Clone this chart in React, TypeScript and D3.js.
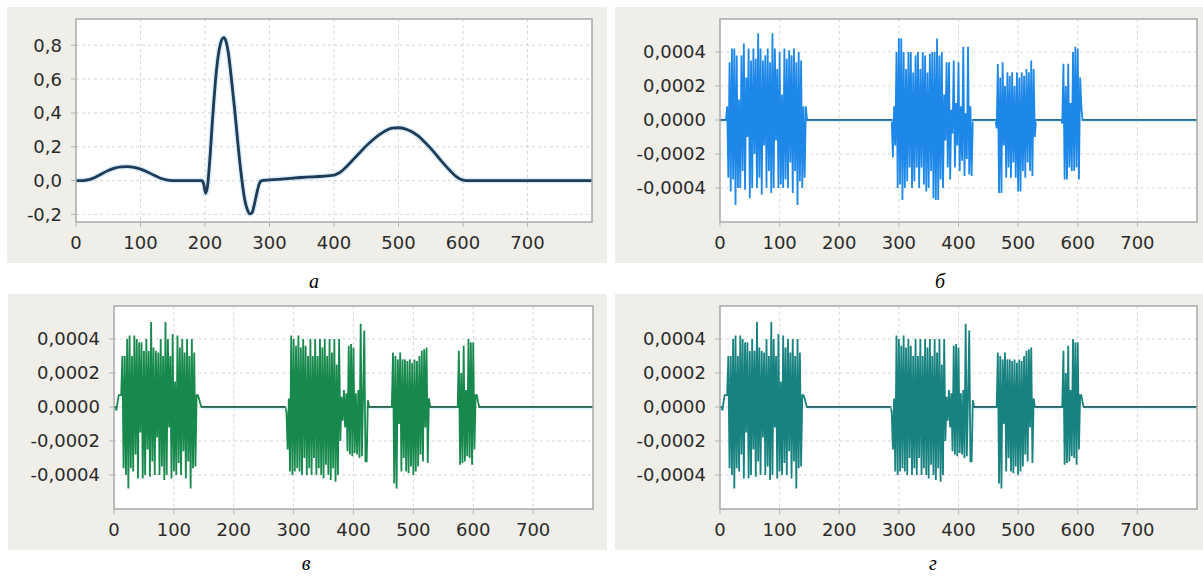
import React from 'react';
import * as d3 from 'd3';

// ---------- tick values / captions ----------
const X_TICKS = [0, 100, 200, 300, 400, 500, 600, 700];
const ECG_Y_TICKS = [-0.2, 0, 0.2, 0.4, 0.6, 0.8];
const DETAIL_Y_TICKS = [-0.0004, -0.0002, 0, 0.0002, 0.0004];
const CAPTIONS = ['а', 'б', 'в', 'г'];

// ---------- panel а: ECG-like signal (key samples) ----------
const ecgX = [0, 10, 20, 30, 40, 50, 60, 70, 80, 90, 100, 110, 120, 130, 140, 150, 195, 198, 201, 204, 207, 212, 218, 224, 229, 232, 236, 241, 246, 251, 256, 261, 266, 270, 273, 276, 280, 284, 288, 300, 350, 400, 405, 410, 420, 430, 440, 450, 460, 470, 480, 490, 500, 510, 520, 530, 540, 550, 560, 570, 580, 590, 600, 605, 800];
const ecgY = [0, 0, 0.005, 0.02, 0.04, 0.06, 0.074, 0.081, 0.082, 0.078, 0.068, 0.052, 0.033, 0.015, 0.004, 0, 0, -0.02, -0.075, -0.03, 0.1, 0.38, 0.66, 0.81, 0.845, 0.83, 0.76, 0.6, 0.42, 0.22, 0.04, -0.1, -0.175, -0.197, -0.19, -0.15, -0.08, -0.02, 0, 0.004, 0.018, 0.032, 0.04, 0.05, 0.085, 0.125, 0.165, 0.205, 0.24, 0.27, 0.295, 0.31, 0.312, 0.306, 0.29, 0.265, 0.23, 0.19, 0.145, 0.1, 0.058, 0.022, 0.002, 0, 0];

// ---------- detail coefficients, values in units of 1e-4, sample step 2 ----------
const STEP = 2;
const UNIT = 1e-4;

// panel б
const bStarts = [12, 290, 464, 574];
const bBurst1 = [0.8, -3.4, 3.4, -4.2, 4.2, -3.5, 4.2, -5.0, 3.8, -4.0, 1.2, -4.0, 3.8, -3.0, 4.5, -4.1, 2.5, -1.0, 4.2, -4.6, 3.5, -4.0, 4.2, -2.0, 3.6, -4.0, 5.1, -3.4, 4.2, -4.4, 3.5, -1.5, 3.8, -4.0, 4.2, -3.0, 3.4, -4.3, 5.1, -4.0, 4.2, -1.2, 3.0, -4.0, 4.0, -3.8, 1.5, -4.0, 4.2, -3.5, 3.6, -4.0, 4.1, -2.5, 3.8, -4.3, 4.2, -3.0, 3.4, -5.0, 4.0, -3.6, 3.5, -4.0, 0.8, -3.4, 0.8, 0];
const bBurst2 = [-2.2, 0.8, -1.5, 4.0, -4.0, 4.8, -3.8, 4.8, -4.7, 4.0, -4.0, 3.0, -3.6, 4.0, -2.8, 4.0, -4.0, 2.8, -3.6, 3.8, -2.8, 4.0, -4.0, 3.0, -2.8, 4.0, -3.8, 3.8, -4.2, 2.8, -4.0, 3.9, -3.0, 4.0, -4.6, 4.0, -4.7, 4.8, -4.7, 3.8, -3.5, 4.0, -4.0, 1.5, -1.2, 3.4, -2.8, 3.4, -3.5, 0.6, -0.8, 3.5, -2.8, 1.0, -1.5, 3.4, -3.0, 0.8, -2.4, 4.3, -3.3, 0.4, -2.3, 4.3, -3.2, 0.8, -3.3, 0];
const bBurst3 = [-0.5, 3.3, -4.3, 2.5, -4.3, 3.4, -1.5, 2.0, -3.4, 2.8, -2.8, 2.6, -3.4, 2.8, -2.5, 2.0, -3.4, 2.8, -4.2, 2.5, -4.2, 2.8, -3.0, 2.6, -3.4, 3.0, -2.5, 2.8, -3.0, 3.5, -3.3, 3.0, -1.0, 0];
const bBurst4 = [-0.2, 3.3, -3.5, 2.0, -3.5, 3.3, -2.8, 1.0, -3.0, 4.0, -3.0, 4.3, -2.8, 4.2, -3.5, 2.5, 0.8, 0];

// panel в (and г, which shows the same reconstruction)
const cStarts = [4, 288, 464, 574];
const cBurst1 = [-0.2, 0.3, 0.7, 0.7, 0.7, 3.0, -3.6, 3.0, -4.0, 4.0, -4.8, 4.2, -3.6, 3.0, -3.8, 4.2, -2.8, 4.0, -4.2, 3.8, -1.5, 3.8, -4.2, 3.3, -4.0, 4.0, -2.5, 3.3, -4.1, 5.0, -3.2, 3.5, -4.0, 3.3, -1.8, 3.2, -4.0, 4.0, -3.5, 3.0, -4.3, 5.0, -4.0, 4.0, -1.2, 3.0, -4.2, 4.3, -3.8, 1.5, -4.0, 4.2, -3.3, 3.5, -4.0, 4.0, -2.6, 3.2, -4.2, 4.0, -3.2, 3.0, -4.8, 4.0, -3.6, 3.2, -3.5, 0.7, 0.7, 0.5, 0.2, 0];
const cBurst2 = [-0.3, -2.5, 0.5, -3.8, 4.2, -4.0, 4.0, -3.8, 3.6, -3.6, 4.2, -3.8, 3.5, -4.0, 4.0, -3.0, 3.6, -4.0, 3.0, -3.6, 4.0, -4.0, 3.0, -3.0, 4.0, -4.0, 3.0, -3.6, 4.0, -4.0, 3.5, -4.2, 4.0, -3.4, 3.0, -4.0, 4.0, -4.3, 3.2, -3.6, 4.0, -4.4, 2.5, -4.0, 4.0, -2.0, 0.6, -0.8, 1.0, -1.2, 0.8, -2.6, 3.6, -2.8, 3.7, -2.9, 3.5, -2.7, 0.8, -2.8, 1.0, -3.0, 4.9, -2.9, 0.6, 4.5, -3.2, -3.2, 0.4, 0];
const cBurst3 = [0.0, 3.2, -4.5, 3.0, -4.8, 2.8, -1.0, 3.2, -3.8, 2.8, -3.0, 2.8, -3.8, 2.7, -3.9, 2.8, -3.5, 2.6, -4.0, 2.8, -3.8, 2.7, -3.5, 3.0, -2.8, 3.3, -3.2, 3.4, -1.2, 3.5, -3.3, 0.5, 0];
const cBurst4 = [0, 3.3, -3.4, 2.0, -3.3, 3.6, -3.2, 1.0, -2.9, 4.0, -3.0, 3.8, -3.4, 3.8, -2.5, 0.7, 0.7, 0.3, 0];

// ---------- layout ----------
const W = 1203;
const H = 576;
const X_MAX = 800;
const LAYOUT = [
  { bg: { x: 7, y: 7, w: 600, h: 256 }, plot: { l: 76, t: 19, r: 592, b: 222 }, cap: { x: 314, y: 288 } },
  { bg: { x: 615, y: 7, w: 588, h: 256 }, plot: { l: 720, t: 19, r: 1197, b: 222 }, cap: { x: 940, y: 288 } },
  { bg: { x: 8, y: 294, w: 599, h: 256 }, plot: { l: 114, t: 306, r: 593, b: 509 }, cap: { x: 306, y: 570 } },
  { bg: { x: 615, y: 294, w: 588, h: 256 }, plot: { l: 720, t: 306, r: 1197, b: 509 }, cap: { x: 933, y: 570 } },
];

const locale = d3.formatLocale({ decimal: ',', thousands: ' ', grouping: [3], currency: ['', ''], minus: '-' });
const fmtEcg = locale.format('.1f');
const fmtDetail = locale.format('.4f');

function buildDetail(starts: number[], bursts: number[][]) {
  const pts: [number, number][] = [[0, 0]];
  const flats: [number, number][] = [];
  let prevEnd = 0;
  starts.forEach((s, i) => {
    const vals = bursts[i];
    flats.push([prevEnd, s - STEP]);
    pts.push([s - STEP, 0]);
    vals.forEach((v, j) => pts.push([s + j * STEP, v * UNIT]));
    prevEnd = s + (vals.length - 1) * STEP;
  });
  pts.push([X_MAX, 0]);
  flats.push([prevEnd, X_MAX]);
  return { pts, flats };
}

const ecgPts: [number, number][] = ecgX.map((x, i) => [x, ecgY[i]]);
const bSeries = buildDetail(bStarts, [bBurst1, bBurst2, bBurst3, bBurst4]);
const cSeries = buildDetail(cStarts, [cBurst1, cBurst2, cBurst3, cBurst4]);

const PANELS = [
  { yDomain: [-0.245, 0.955], yTicks: ECG_Y_TICKS, fmt: fmtEcg, kind: 'ecg', color: '#1f3b57', flat: '#1f3b57' },
  { yDomain: [-0.0006, 0.000594], yTicks: DETAIL_Y_TICKS, fmt: fmtDetail, kind: 'b', color: '#1e88e8', flat: '#2f6884' },
  { yDomain: [-0.0006, 0.000594], yTicks: DETAIL_Y_TICKS, fmt: fmtDetail, kind: 'c', color: '#18894d', flat: '#2f5a4c' },
  { yDomain: [-0.0006, 0.000594], yTicks: DETAIL_Y_TICKS, fmt: fmtDetail, kind: 'd', color: '#17827f', flat: '#2c5d60' },
];

const TICK_FONT = 'DejaVu Sans, Verdana, sans-serif';

function Panel({ idx }: { idx: number }) {
  const L = LAYOUT[idx];
  const P = PANELS[idx];
  const { l, t, r, b } = L.plot;
  const x = d3.scaleLinear().domain([0, X_MAX]).range([l, r]);
  const y = d3.scaleLinear().domain(P.yDomain).range([b, t]);
  const clipId = `clip${idx}`;

  let main: React.ReactNode = null;
  if (P.kind === 'ecg') {
    const line = d3.line<[number, number]>().x(d => x(d[0])).y(d => y(d[1])).curve(d3.curveMonotoneX);
    const dStr = line(ecgPts) || '';
    main = (
      <g clipPath={`url(#${clipId})`}>
        <path d={dStr} fill="none" stroke="#bfe0f5" strokeWidth={5.5} strokeOpacity={0.6} />
        <path d={dStr} fill="none" stroke={P.color} strokeWidth={2.8} strokeLinejoin="round" />
      </g>
    );
  } else {
    const series = P.kind === 'b' ? bSeries : cSeries;
    const line = d3.line<[number, number]>().x(d => x(d[0])).y(d => y(d[1]));
    main = (
      <g clipPath={`url(#${clipId})`}>
        <path d={line(series.pts) || ''} fill="none" stroke={P.color} strokeWidth={1.8} />
        {series.flats.map((f, i) => (
          <g key={i}>
            <line x1={x(f[0])} x2={x(f[1])} y1={y(0) + 1.5} y2={y(0) + 1.5} stroke="#d9f4fb" strokeWidth={2} />
            <line x1={x(f[0])} x2={x(f[1])} y1={y(0)} y2={y(0)} stroke={P.flat} strokeWidth={1.5} />
          </g>
        ))}
      </g>
    );
  }

  return (
    <g>
      <rect x={L.bg.x} y={L.bg.y} width={L.bg.w} height={L.bg.h} fill="#f0eee8" />
      <defs>
        <clipPath id={clipId}>
          <rect x={l} y={t} width={r - l} height={b - t} />
        </clipPath>
      </defs>
      <rect x={l} y={t} width={r - l} height={b - t} fill="#ffffff" />
      {/* grid */}
      {X_TICKS.filter(v => v > 0).map(v => (
        <line key={'gx' + v} x1={x(v)} x2={x(v)} y1={t} y2={b} stroke="#d6d6d6" strokeWidth={1} strokeDasharray="3,3" />
      ))}
      {P.yTicks.map(v => (
        <line key={'gy' + v} x1={l} x2={r} y1={y(v)} y2={y(v)} stroke="#d6d6d6" strokeWidth={1} strokeDasharray="3,3" />
      ))}
      {main}
      {/* frame */}
      <rect x={l} y={t} width={r - l} height={b - t} fill="none" stroke="#a9a9a9" strokeWidth={1.5} />
      {/* ticks & labels */}
      {P.yTicks.map(v => (
        <g key={'ty' + v}>
          <line x1={l - 5} x2={l} y1={y(v)} y2={y(v)} stroke="#b5b5b5" strokeWidth={1} />
          <text x={l - 14} y={y(v)} dy="0.36em" textAnchor="end" fontFamily={TICK_FONT} fontSize={18} fill="#2b2b2b">
            {P.fmt(v)}
          </text>
        </g>
      ))}
      {X_TICKS.map(v => (
        <g key={'tx' + v}>
          <line x1={x(v)} x2={x(v)} y1={b} y2={b + 5} stroke="#b5b5b5" strokeWidth={1} />
          <text x={x(v)} y={b + 21} dy="0.36em" textAnchor="middle" fontFamily={TICK_FONT} fontSize={18} fill="#2b2b2b">
            {v}
          </text>
        </g>
      ))}
      <text x={L.cap.x} y={L.cap.y} textAnchor="middle" fontFamily="Liberation Serif, Times New Roman, serif" fontStyle="italic" fontSize={20} fill="#000">
        {CAPTIONS[idx]}
      </text>
    </g>
  );
}

export default function App() {
  return (
    <svg width={W} height={H} viewBox={`0 0 ${W} ${H}`} style={{ position: 'absolute', left: 0, top: 0, background: '#fff' }}>
      {PANELS.map((_, i) => (
        <Panel key={i} idx={i} />
      ))}
    </svg>
  );
}
